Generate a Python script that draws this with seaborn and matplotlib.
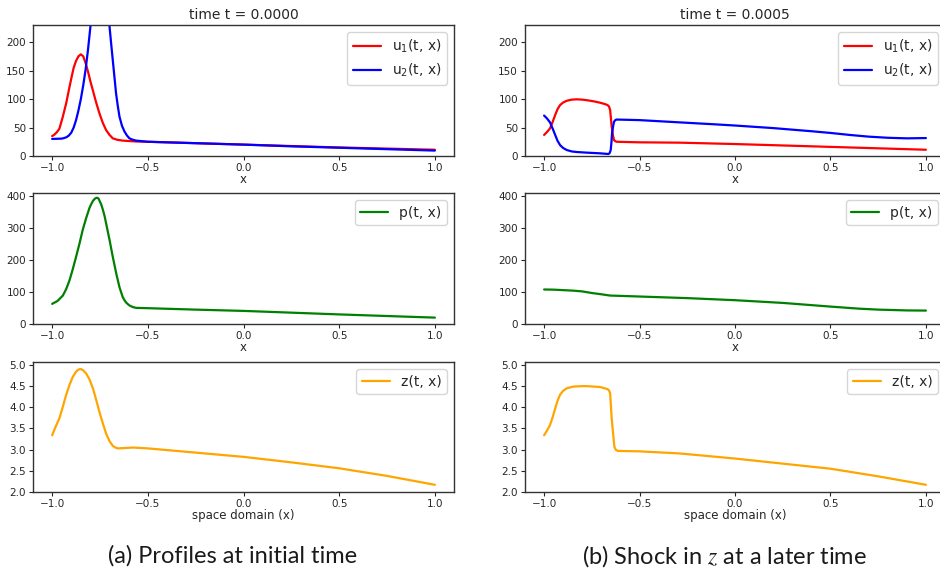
import matplotlib
matplotlib.use("Agg")
import matplotlib.pyplot as plt
from matplotlib import font_manager
import seaborn as sns

# ---- t = 0.0000 profiles -------------------------------------------------
x_u1_0 = [-1.0, -0.99, -0.975, -0.962, -0.945, -0.927, -0.91, -0.9, -0.8875,
          -0.875, -0.8625, -0.85, -0.8375, -0.825, -0.8125, -0.8, -0.787, -0.77,
          -0.753, -0.735, -0.718, -0.7, -0.683, -0.66, -0.631, -0.561, -0.5,
          -0.25, 0.0, 0.25, 0.5, 0.75, 1.0]
u1_0 = [35, 37, 42, 48, 68, 92, 120, 136, 155, 167, 175, 178.5, 175, 163, 148,
        131, 115, 94, 75, 58, 45.5, 37, 31, 28.5, 27, 25.5, 25, 22.5, 20, 17.5,
        15, 13, 11]

x_u2_0 = [-1.0, -0.95, -0.9375, -0.925, -0.9125, -0.9, -0.8875, -0.875, -0.8625,
          -0.85, -0.8375, -0.825, -0.8125, -0.8, -0.775, -0.75, -0.725, -0.7,
          -0.6915, -0.683, -0.6745, -0.666, -0.657, -0.648, -0.635, -0.622,
          -0.609, -0.596, -0.578, -0.561, -0.5, -0.25, 0.0, 0.25, 0.5, 0.75, 1.0]
u2_0 = [30, 30.5, 31.5, 33, 36, 41, 50, 63, 80, 100, 124, 152, 187, 227, 300,
        340, 300, 227, 197, 168, 139, 110, 88, 69, 53, 43, 36, 31, 28.5, 27, 25,
        22.5, 20, 17, 14.5, 12, 9.5]

x_p_0 = [-1.0, -0.972, -0.944, -0.926, -0.909, -0.892, -0.875, -0.857, -0.84,
         -0.822, -0.805, -0.796, -0.787, -0.778, -0.77, -0.763, -0.756, -0.752,
         -0.744, -0.735, -0.726, -0.718, -0.7, -0.683, -0.665, -0.648, -0.631,
         -0.622, -0.613, -0.604, -0.596, -0.578, -0.561, -0.5, -0.25, 0.0, 0.25,
         0.5, 0.75, 1.0]
p_0 = [63, 72, 89, 110, 137, 172, 210, 252, 295, 332, 363, 375, 385, 391.5,
       394.5, 395, 391, 385, 375, 358, 338, 315, 263, 210, 158, 115, 84, 74.5,
       67, 62, 58, 53, 50.5, 49.5, 45, 41, 35.5, 30, 25, 20]

x_z_0 = [-1.0, -0.981, -0.962, -0.945, -0.927, -0.91, -0.892, -0.875, -0.866,
         -0.857, -0.848, -0.84, -0.822, -0.805, -0.787, -0.77, -0.753, -0.735,
         -0.718, -0.7, -0.683, -0.67, -0.657, -0.635, -0.613, -0.578, -0.5,
         -0.25, 0.0, 0.25, 0.5, 0.75, 1.0]
z_0 = [3.34, 3.55, 3.74, 4.0, 4.29, 4.52, 4.72, 4.84, 4.88, 4.9, 4.9, 4.88, 4.8,
       4.66, 4.45, 4.18, 3.89, 3.62, 3.38, 3.2, 3.09, 3.05, 3.03, 3.035, 3.04,
       3.05, 3.03, 2.93, 2.83, 2.7, 2.56, 2.38, 2.17]

# ---- t = 0.0005 profiles -------------------------------------------------
x_u1_1 = [-1.0, -0.985, -0.969, -0.955, -0.942, -0.93, -0.916, -0.9, -0.881,
          -0.855, -0.829, -0.8, -0.777, -0.74, -0.707, -0.68, -0.668, -0.66,
          -0.654, -0.65, -0.646, -0.64, -0.634, -0.627, -0.62, -0.5, -0.288,
          0.0, 0.25, 0.5, 0.75, 1.0]
u1_1 = [37, 42, 48.5, 60, 72, 82, 89.5, 94, 97, 99, 99.5, 99, 98, 96, 93.6, 91,
        89.5, 87, 80.7, 66, 51.5, 38, 28, 26, 25, 24, 23.4, 21, 18.5, 16, 13.5, 11]

x_u2_1 = [-1.0, -0.985, -0.969, -0.955, -0.942, -0.93, -0.916, -0.9, -0.881,
          -0.855, -0.829, -0.777, -0.707, -0.663, -0.657, -0.651, -0.647, -0.644,
          -0.638, -0.634, -0.627, -0.62, -0.5, -0.288, -0.1, 0.0, 0.2, 0.4, 0.5,
          0.6, 0.7, 0.8, 0.9, 1.0]
u2_1 = [71, 66, 59, 48, 37, 27, 19, 14, 10.5, 8, 7, 5.9, 4.7, 3.5, 5, 10.5, 25,
        40, 53, 60, 63, 64, 63, 59, 55.5, 53.5, 49, 43.5, 40.5, 37, 34, 32, 31,
        31.5]

x_p_1 = [-1.0, -0.95, -0.9, -0.85, -0.8, -0.75, -0.7, -0.654, -0.6, -0.5, -0.25,
         0.0, 0.25, 0.5, 0.65, 0.75, 0.9, 1.0]
p_1 = [108, 107.5, 106, 104.5, 102, 97, 93, 89, 88, 86, 81, 74.5, 66, 54.5, 48,
       45, 42.5, 42]

x_z_1 = [-1.0, -0.985, -0.969, -0.955, -0.942, -0.93, -0.916, -0.9, -0.881,
         -0.846, -0.8, -0.777, -0.707, -0.668, -0.66, -0.654, -0.646, -0.632,
         -0.625, -0.614, -0.5, -0.288, 0.0, 0.25, 0.5, 0.75, 1.0]
z_1 = [3.34, 3.45, 3.58, 3.77, 3.97, 4.15, 4.3, 4.39, 4.45, 4.49, 4.5, 4.5, 4.48,
       4.43, 4.4, 4.33, 3.74, 3.07, 3.0, 2.97, 2.96, 2.91, 2.79, 2.67, 2.55,
       2.37, 2.17]

times = ["0.0000", "0.0005"]
captions = ["(a) Profiles at initial time", "(b) Shock in $z$ at a later time"]

sns.set_style("ticks")
plt.rcParams["font.family"] = ["DejaVu Sans"]
plt.rcParams["axes.edgecolor"] = "0.2"
plt.rcParams["xtick.color"] = "0.15"
plt.rcParams["ytick.color"] = "0.15"

installed = {f.name for f in font_manager.fontManager.ttflist}
caption_family = ("Liberation Sans Narrow" if "Liberation Sans Narrow" in installed
                  else "Lato")

fig = plt.figure(figsize=(9.4, 5.72), dpi=100)
W, H = 940.0, 572.0


def place(left_px, right_px, top_px, bottom_px):
    return fig.add_axes([left_px / W, 1 - bottom_px / H,
                         (right_px - left_px) / W, (bottom_px - top_px) / H])


columns = [
    (33, 454, [(x_u1_0, u1_0), (x_u2_0, u2_0)], (x_p_0, p_0), (x_z_0, z_0), 233),
    (525, 945, [(x_u1_1, u1_1), (x_u2_1, u2_1)], (x_p_1, p_1), (x_z_1, z_1), 724),
]
rows_px = [(25, 156), (193, 324), (362, 492)]

for col, (lpx, rpx, useries, pser, zser, cap_x) in enumerate(columns):
    ax1 = place(lpx, rpx, *rows_px[0])
    ax2 = place(lpx, rpx, *rows_px[1])
    ax3 = place(lpx, rpx, *rows_px[2])

    sns.lineplot(x=useries[0][0], y=useries[0][1], ax=ax1, color="red",
                 lw=1.6, label="u$_1$(t, x)")
    sns.lineplot(x=useries[1][0], y=useries[1][1], ax=ax1, color="blue",
                 lw=1.6, label="u$_2$(t, x)")
    ax1.set_ylim(0, 230)
    ax1.set_yticks([0, 50, 100, 150, 200])
    ax1.set_title(f"time t = {times[col]}", fontsize=10, pad=4)
    ax1.set_xlabel("x", fontsize=8.5, labelpad=0)

    sns.lineplot(x=pser[0], y=pser[1], ax=ax2, color="green", lw=1.6,
                 label="p(t, x)")
    ax2.set_ylim(0, 410)
    ax2.set_yticks([0, 100, 200, 300, 400])
    ax2.set_xlabel("x", fontsize=8.5, labelpad=0)

    sns.lineplot(x=zser[0], y=zser[1], ax=ax3, color="orange", lw=1.6,
                 label="z(t, x)")
    ax3.set_ylim(2.0, 5.07)
    ax3.set_yticks([2.0, 2.5, 3.0, 3.5, 4.0, 4.5, 5.0])
    ax3.set_xlabel("space domain (x)", fontsize=8.5, labelpad=0)

    for ax in (ax1, ax2, ax3):
        ax.set_xlim(-1.1, 1.1)
        ax.set_xticks([-1.0, -0.5, 0.0, 0.5, 1.0])
        ax.set_ylabel("")
        ax.tick_params(labelsize=7.5, length=3, width=0.8, pad=2)
        for s in ax.spines.values():
            s.set_linewidth(1.0)
        ax.legend(loc="upper right", fontsize=10, handlelength=2.0,
                  borderaxespad=0.5)

    fig.text(cap_x / W, 1 - 556 / H, captions[col], ha="center", va="center",
             fontsize=17, family=caption_family, math_fontfamily="stix",
             color="0.1")

fig.savefig("out.png", dpi=100)
